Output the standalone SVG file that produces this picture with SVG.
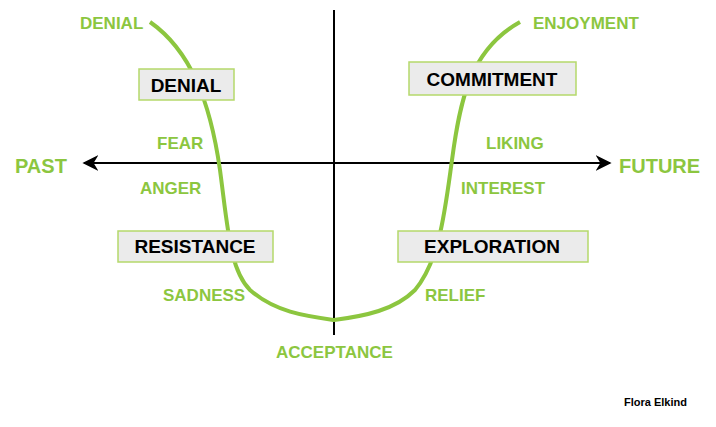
<svg xmlns="http://www.w3.org/2000/svg" width="716" height="427" viewBox="0 0 716 427">
<style>
.g{fill:#8cc63f;font-family:"Liberation Sans",Arial,sans-serif;font-weight:bold;font-size:17px}
.b{fill:#ebebeb;stroke:#b5d96b;stroke-width:1.5}
.bt{fill:#000;font-family:"Liberation Sans",Arial,sans-serif;font-weight:bold;font-size:19px;text-anchor:middle}
</style>
<defs><marker id="a" viewBox="0 0 10 10" refX="9" refY="5" markerWidth="16" markerHeight="16" markerUnits="userSpaceOnUse" orient="auto-start-reverse"><path d="M0,0 L10,5 L0,10 L3,5 Z" fill="#000"/></marker></defs>
<rect width="716" height="427" fill="#fff"/>
<g id="connectors">
<line x1="334" y1="10" x2="334" y2="335" stroke="#000" stroke-width="2"/>
<line x1="84" y1="163" x2="610" y2="163" stroke="#000" stroke-width="2" marker-start="url(#a)" marker-end="url(#a)"/>
<path d="M150,22 C190,50 210,100 220,170 C228,230 230,270 250,290 C275,312 305,316 334,320 C365,316 395,310 415,290 C440,260 445,210 452,160 C460,100 470,50 520,22" fill="none" stroke="#8cc63f" stroke-width="4"/>
</g>
<g id="labels">
<text class="g" x="80" y="29">DENIAL</text>
<text class="g" x="533" y="29">ENJOYMENT</text>
<text class="g" x="157" y="149">FEAR</text>
<text class="g" x="140" y="194">ANGER</text>
<text class="g" x="486" y="149">LIKING</text>
<text class="g" x="461" y="194">INTEREST</text>
<text class="g" x="163" y="301">SADNESS</text>
<text class="g" x="425" y="301">RELIEF</text>
<text class="g" x="276" y="358">ACCEPTANCE</text>
<text class="g" x="15" y="173" style="font-size:20px">PAST</text>
<text class="g" x="619" y="173" style="font-size:20px">FUTURE</text>
<text x="624" y="406" font-family="Liberation Sans,Arial,sans-serif" font-weight="bold" font-size="11">Flora Elkind</text>
</g>
<g id="n-denial"><rect class="b" x="139" y="69" width="95" height="31"/><text class="bt" x="186" y="92">DENIAL</text></g>
<g id="n-commitment"><rect class="b" x="409" y="62" width="167" height="33"/><text class="bt" x="492" y="86">COMMITMENT</text></g>
<g id="n-resistance"><rect class="b" x="118" y="231" width="155" height="31"/><text class="bt" x="195" y="253">RESISTANCE</text></g>
<g id="n-exploration"><rect class="b" x="398" y="231" width="190" height="31"/><text class="bt" x="492" y="253">EXPLORATION</text></g>
</svg>
